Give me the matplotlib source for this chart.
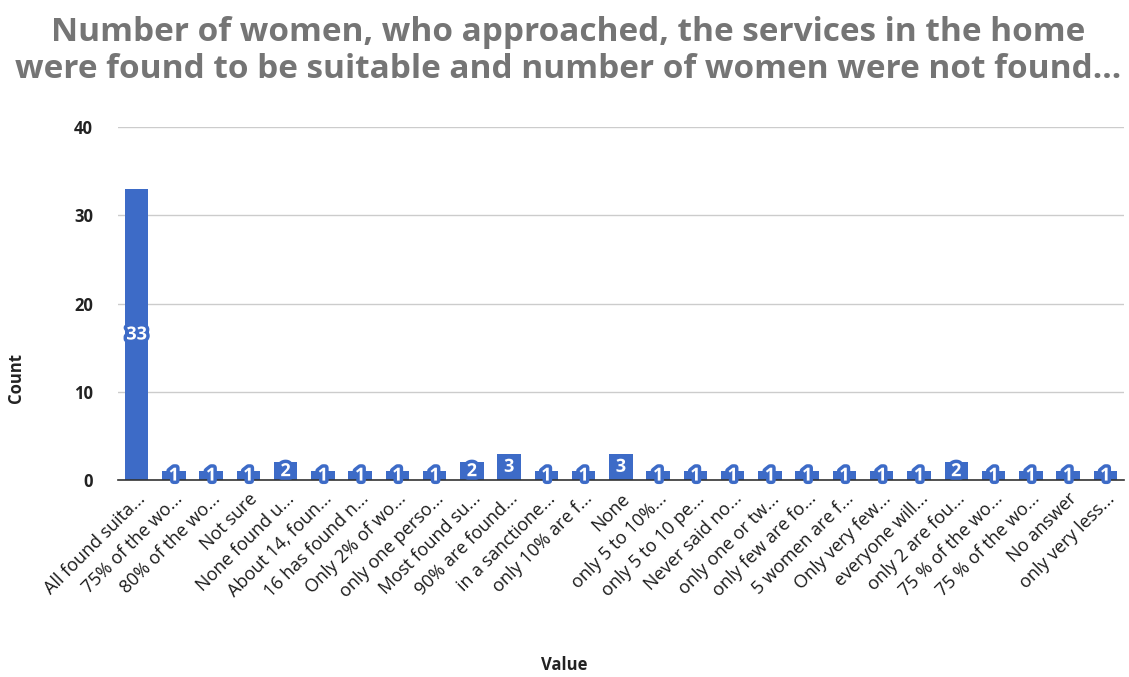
import matplotlib.pyplot as plt
import matplotlib.patheffects as pe

# Chart data
categories = [
    "All found suita...", "75% of the wo...", "80% of the wo...", "Not sure",
    "None found u...", "About 14, foun...", "16 has found n...", "Only 2% of wo...",
    "only one perso...", "Most found su...", "90% are found...", "in a sanctione...",
    "only 10% are f...", "None", "only 5 to 10%...", "only 5 to 10 pe...",
    "Never said no...", "only one or tw...", "only few are fo...", "5 women are f...",
    "Only very few...", "everyone will...", "only 2 are fou...", "75 % of the wo...",
    "75 % of the wo...", "No answer", "only very less...",
]
counts = [33, 1, 1, 1, 2, 1, 1, 1, 1, 2, 3, 1, 1, 3, 1, 1, 1, 1, 1, 1, 1, 1, 2, 1, 1, 1, 1]
y_ticks = [0, 10, 20, 30, 40]

bar_color = "#3d6bc7"
font = ["Open Sans", "DejaVu Sans"]
plt.rcParams["font.family"] = font

fig = plt.figure(figsize=(11.29, 6.77), dpi=100)
ax = fig.add_axes([0.1045, 0.291, 0.891, 0.521])

x = list(range(len(categories)))
bars = ax.bar(x, counts, width=0.63, color=bar_color, zorder=3)

# data labels in the middle of each bar
for xi, v in zip(x, counts):
    ax.text(xi, v / 2, str(v), ha="center", va="center", fontsize=13,
            fontweight="bold", color="white", zorder=5,
            path_effects=[pe.withStroke(linewidth=5, foreground=bar_color)])

ax.set_xlim(-0.5, len(categories) - 0.5)
ax.set_ylim(0, 40)
ax.set_yticks(y_ticks)
ax.set_yticklabels([str(t) for t in y_ticks], fontsize=12, fontweight="bold", color="#222222")
ax.set_xticks(x)
ax.set_xticklabels(categories, rotation=45, ha="right", rotation_mode="anchor",
                   fontsize=13, color="#1a1a1a")
ax.tick_params(axis="both", length=0)
ax.tick_params(axis="y", pad=18)
ax.tick_params(axis="x", pad=7)

ax.grid(axis="y", color="#cccccc", linewidth=1, zorder=0)
for side in ["top", "right", "left"]:
    ax.spines[side].set_visible(False)
ax.spines["bottom"].set_color("#333333")
ax.spines["bottom"].set_linewidth(1.2)
ax.spines["bottom"].set_zorder(4)

fig.text(0.014, 0.442, "Count", rotation=90, ha="center", va="center",
         fontsize=12, fontweight="bold", color="#222222")
fig.text(0.5, 0.018, "Value", ha="center", va="center",
         fontsize=12, fontweight="bold", color="#222222")

fig.text(0.503, 0.977, "Number of women, who approached, the services in the home\n"
         "were found to be suitable and number of women were not found...",
         ha="center", va="top", fontsize=24, fontweight="bold", color="#757575",
         linespacing=1.18)

fig.savefig("out.png", dpi=100)
